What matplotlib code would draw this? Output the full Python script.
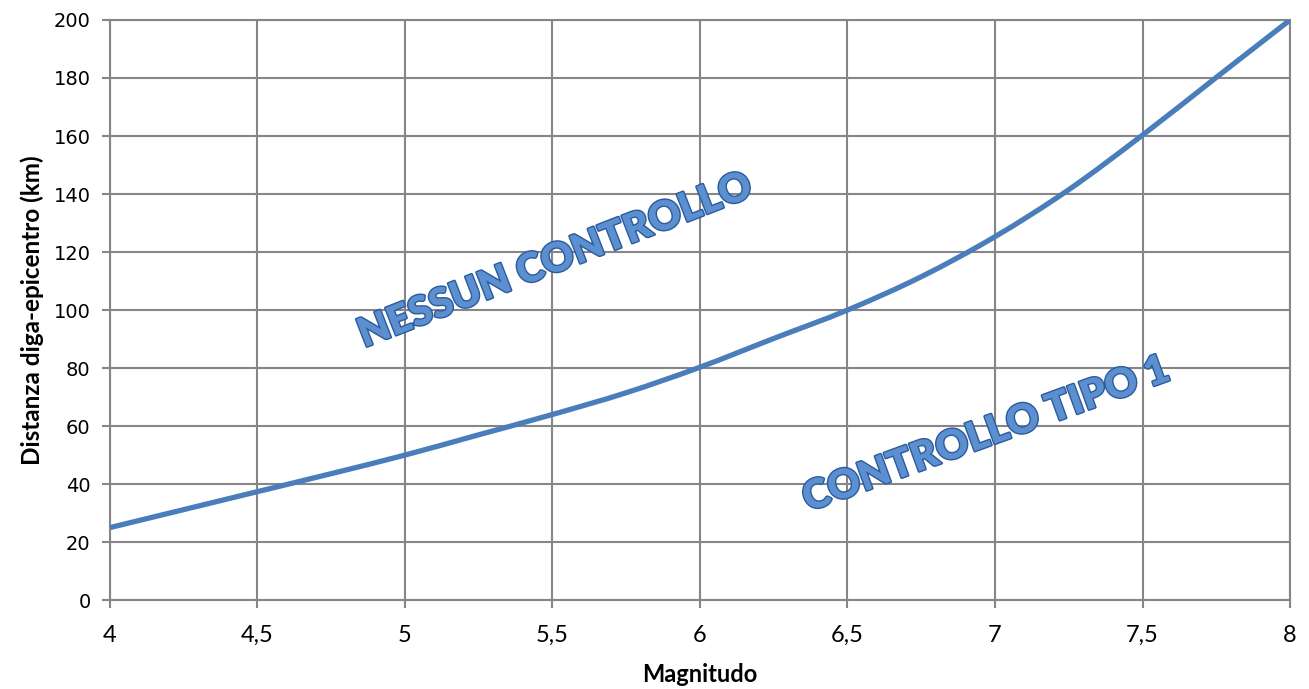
import numpy as np
import matplotlib.pyplot as plt
import matplotlib.patheffects as pe
from matplotlib.path import Path
from matplotlib.patches import PathPatch
from matplotlib.ticker import FuncFormatter

# curve
magnitudo = [4.0, 4.25, 4.5, 4.75, 5.0, 5.25, 5.5, 5.75, 6.0, 6.25, 6.5, 6.75, 7.0, 7.25, 7.5, 7.75, 8.0]
distanza = [25, 31.2, 37.4, 43.6, 50, 57, 64, 71.5, 80.3, 90.2, 100, 111.5, 125.3, 141.5, 160.3, 180.2, 200]

xticks = [4, 4.5, 5, 5.5, 6, 6.5, 7, 7.5, 8]
yticks = [0, 20, 40, 60, 80, 100, 120, 140, 160, 180, 200]

grey = '#868686'
blue = '#4A7EBB'


def smooth_path(x, y):
    # Excel-style smoothed line: Catmull-Rom segments as cubic beziers
    x = np.asarray(x, float)
    y = np.asarray(y, float)
    verts = [(x[0], y[0])]
    codes = [Path.MOVETO]
    n = len(x)
    for i in range(n - 1):
        i0 = max(i - 1, 0)
        i3 = min(i + 2, n - 1)
        c1 = (x[i] + (x[i + 1] - x[i0]) / 6, y[i] + (y[i + 1] - y[i0]) / 6)
        c2 = (x[i + 1] - (x[i3] - x[i]) / 6, y[i + 1] - (y[i3] - y[i]) / 6)
        verts += [c1, c2, (x[i + 1], y[i + 1])]
        codes += [Path.CURVE4] * 3
    return Path(verts, codes)


fig = plt.figure(figsize=(13.09, 6.89), dpi=100)
ax = fig.add_axes([0.084, 0.129, 0.9015, 0.842])

ax.add_patch(PathPatch(smooth_path(magnitudo, distanza), facecolor='none',
                       edgecolor=blue, linewidth=3.8, capstyle='butt', zorder=3))

ax.set_xlim(4, 8)
ax.set_ylim(0, 200)
ax.set_xticks(xticks)
ax.set_yticks(yticks)
ax.xaxis.set_major_formatter(FuncFormatter(lambda v, p: ('%g' % v).replace('.', ',')))
ax.grid(True, color=grey, linewidth=1.5)
ax.set_axisbelow(True)
for s in ax.spines.values():
    s.set_color(grey)
    s.set_linewidth(1.5)
ax.tick_params(axis='both', color=grey, width=1.5, length=6)
ax.tick_params(axis='x', pad=12)
ax.tick_params(axis='y', pad=8)
for lb in ax.get_xticklabels():
    lb.set_family('Lato')
    lb.set_fontsize(17)
for lb in ax.get_yticklabels():
    lb.set_family('DejaVu Sans')
    lb.set_fontsize(14)

ax.set_xlabel('Magnitudo', family='Lato', fontweight='bold', fontsize=17, labelpad=12)
ax.set_ylabel('Distanza diga-epicentro (km)', family='Lato', fontweight='bold', fontsize=17.5, labelpad=7)

fx = [pe.withStroke(linewidth=2, foreground='#2C5B9C')]
ax.text(5.51, 117, 'NESSUN CONTROLLO', rotation=21.3, ha='center', va='center',
        family='Lato', fontweight='heavy', fontstyle='normal', fontsize=29,
        color='#5B8FD0', path_effects=fx)
ax.text(6.97, 57, 'CONTROLLO TIPO 1', rotation=20, ha='center', va='center',
        family='Lato', fontweight='heavy', fontstyle='normal', fontsize=29,
        color='#5B8FD0', path_effects=fx)

fig.savefig('out.png', dpi=100)
